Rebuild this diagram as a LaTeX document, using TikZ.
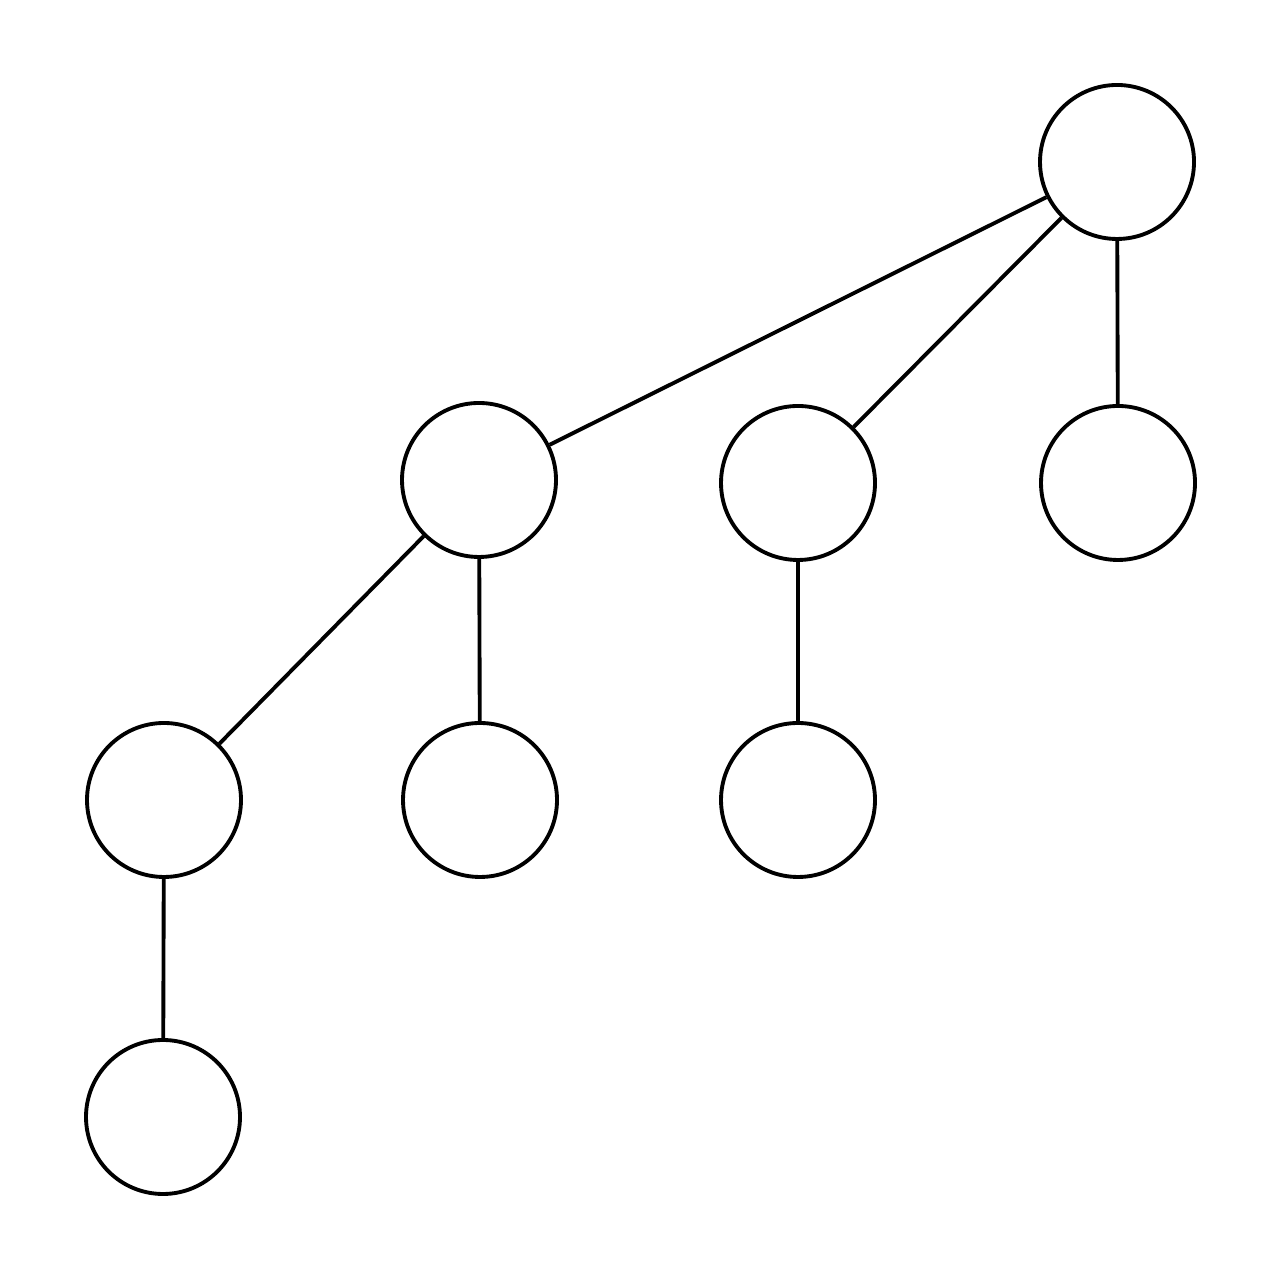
\documentclass[tikz,border=0pt]{standalone}
\usepackage{tikz}
\usetikzlibrary{calc}
\begin{document}
\begin{tikzpicture}[vertex/.style={draw, circle, line width=1.1pt, minimum size=1.54cm, inner sep=0pt}]
            \useasboundingbox (0, 0) rectangle (12.8, 12.8);
            \node[vertex] (r) at (11.17, 11.18) {};
            \node[vertex] (a) at (4.79, 8.0) {};
            \node[vertex] (b) at (7.98, 7.97) {};
            \node[vertex] (c) at (11.18, 7.97) {};
            \node[vertex] (d) at (1.64, 4.8) {};
            \node[vertex] (e) at (4.80, 4.8) {};
            \node[vertex] (f) at (7.98, 4.8) {};
            \node[vertex] (g) at (1.63, 1.63) {};
            \draw[line width=1.1pt] (r) -- (a);
            \draw[line width=1.1pt] (r) -- (b);
            \draw[line width=1.1pt] (r) -- (c);
            \draw[line width=1.1pt] (a) -- (d);
            \draw[line width=1.1pt] (a) -- (e);
            \draw[line width=1.1pt] (b) -- (f);
            \draw[line width=1.1pt] (d) -- (g);
        \end{tikzpicture}
\end{document}
